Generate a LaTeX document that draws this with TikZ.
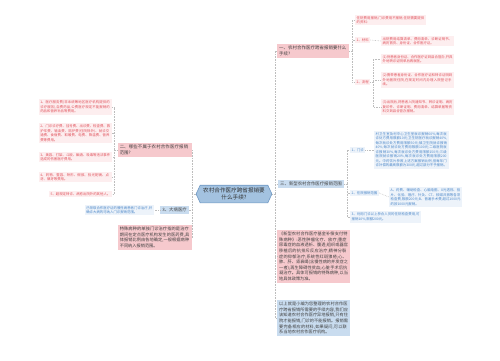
\documentclass[tikz,border=0pt]{standalone}
\usepackage{fontspec}
\newfontfamily\cjk{Noto Sans CJK SC}
\XeTeXlinebreaklocale "zh"
\XeTeXlinebreakskip=0pt plus 1pt
\usetikzlibrary{shapes.symbols}
\definecolor{rootblue}{HTML}{A3C2E0}
\definecolor{rootedge}{HTML}{6F98C3}
\definecolor{pinkbox}{HTML}{F6C9CD}
\definecolor{bluebox}{HTML}{C9DCEF}
\definecolor{pinkleaf}{HTML}{FDEEEF}
\definecolor{pinkink}{HTML}{E0505A}
\definecolor{blueleaf}{HTML}{EDF3FA}
\definecolor{blueink}{HTML}{4A86C8}
\definecolor{linkgray}{HTML}{BDBDBD}
\begin{document}
\begin{tikzpicture}[x=1pt,y=-1pt,
  link/.style={draw=linkgray,densely dotted,line width=0.6pt},
  root/.style={signal,signal to=east and west,signal pointer angle=130,
    fill=rootblue,draw=rootedge,line width=0.6pt,align=center,
    inner xsep=3pt,inner ysep=2.5pt,text=black!80,
    font=\cjk\fontsize{5.6}{7.4}\selectfont},
  branch/.style={fill=pinkbox,inner sep=2pt,align=left,text=black!75,
    font=\cjk\fontsize{4.4}{5.8}\selectfont},
  bbranch/.style={branch,fill=bluebox},
  para/.style={branch,font=\cjk\fontsize{4.2}{5.6}\selectfont},
  leaf/.style={fill=pinkleaf,text=pinkink,inner sep=1.5pt,align=left,
    font=\cjk\fontsize{3.4}{4.5}\selectfont},
  bleaf/.style={leaf,fill=blueleaf,text=blueink}]
\useasboundingbox (0,0) rectangle (500,360);

% centre
\node[root] (root) at (234,194) {农村合作医疗跨省报销要\\什么手续?};

% right side
\node[branch,anchor=west,text width=68] (proc) at (277,51) {一、农村合作医疗跨省报销要什么手续?};
\node[bbranch,anchor=west] (scope) at (278,184) {三、新型农村合作医疗报销范围};
\node[para,anchor=north west,text width=69] (special) at (277,230)
  {《新型农村合作医疗基金补偿支付特殊病种》:恶性肿瘤化疗、放疗;重症尿毒症的血液透析、腹透;组织或器官移植后的抗排斥反应治疗;精神分裂症的抑郁治疗;系统性红斑狼疮;心、肺、肝、肾衰竭(含慢性病的并发症之一者);再生障碍性贫血;心脏手术后抗凝治疗。具体可报销的特殊病种,以当地具体政策为准。};
\node[para,fill=bluebox,anchor=north west,text width=69] (summary) at (277,300)
  {以上就是小编为您整理的农村合作医疗跨省报销所需要的手续内容,我们应该知道农村合作医疗异地报销,只有住院才能报销,门诊的不能报销。报销需要完备相应的材料,如果疑问,可以联系当地农村合作医疗机构。};

% left side
\node[branch,anchor=east,text width=70] (excl) at (192,150) {二、哪些不属于农村合作医疗报销范围?};
\node[bbranch,anchor=east] (ill) at (189,210) {3、大病医疗};
\node[para,anchor=north east,text width=70] (single) at (192,225)
  {特殊病种的单独门诊治疗指的是治疗期间在定点医疗机构发生的医药费,具体报销比例由各地确定,一般根据病种不同纳入报销范围。};

\draw[link] (root.east) -- ++(3,0) |- (proc.west);
\draw[link] (root.east) -- ++(3,0) |- (scope.west);
\draw[link] (root.east) -- ++(3,0) |- (special.west);
\draw[link] (root.east) -- ++(3,0) |- (summary.west);
\draw[link] (root.west) -- ++(-3,0) |- (excl.east);
\draw[link] (root.west) -- ++(-3,0) |- (ill.east);
\draw[link] (root.west) -- ++(-3,0) |- (single.east);

% under "一"
\node[leaf,anchor=west,text width=68] (hosp) at (355,20) {住院费用报销,门诊费用不报销,住院需要提供的资料:};
\node[leaf,anchor=west] (docs) at (355,40) {1、材料};
\node[leaf,anchor=west] (flow) at (355,82) {2、流程};
\node[leaf,anchor=west,text width=70] (docsA) at (381,41) {出院费用结算清单、费用清单、诊断证明书、病历首页、身份证、合作医疗证。};
\node[leaf,anchor=west,text width=70] (flowA) at (381,59) {(1)持患者身份证、合作医疗证到县合管办,开具外地转诊证明单后再就医。};
\node[leaf,anchor=west,text width=70] (flowB) at (381,80) {(2)携带患者身份证、合作医疗证和转诊证明到外地医院住院,在规定时间内办理入院登记手续。};
\node[leaf,anchor=west,text width=70] (flowC) at (381,107) {(3)出院后,将患者入院通知书、转诊证明、病历复印件、诊断证明、费用清单、结算单据等资料交到县合管办报销。};

\draw[link] (proc.east) -- ++(3,0) |- (hosp.west);
\draw[link] (proc.east) -- ++(3,0) |- (docs.west);
\draw[link] (proc.east) -- ++(3,0) |- (flow.west);
\draw[link] (docs.east) -- (docsA.west);
\draw[link] (flow.east) -- ++(3,0) |- (flowA.west);
\draw[link] (flow.east) -- ++(3,0) |- (flowB.west);
\draw[link] (flow.east) -- ++(3,0) |- (flowC.west);

% under "三"
\node[bleaf,anchor=west] (clinic) at (350,150) {1、门诊};
\node[bleaf,anchor=west] (ward) at (350,193) {2、住院报销范围};
\node[bleaf,anchor=west,text width=68] (check) at (350,217) {3、利用门诊以上参合人员的住院检查费用,可报销10\%,限额200元。};
\node[bleaf,anchor=west,text width=72] (clinicA) at (374,150)
  {村卫生室及村中心卫生室就诊报销60\%,每次就诊处方费用限额10元;卫生院医疗就诊报销40\%,每次就诊处方费用限额50元;镇卫生院就诊报销40\%,每次就诊处方费用限额100元;二级医院就诊报销30\%,每次就诊处方费用限额150元;三级医院就诊报销20\%,每次就诊处方费用限额200元。中药饮片参照上述方案报销比例,但每年门诊补偿的最高限额为300元,超过部分不予报销。};
\node[bleaf,anchor=west,text width=70] (wardA) at (389,197) {A、药费、辅助检查、心脑电图、X光透视、拍片、化验、理疗、针灸、CT、核磁共振等各项检查费,限额200元;B、普通手术费,超过1000元的按1000元报销。};

\draw[link] (scope.east) -- ++(3,0) |- (clinic.west);
\draw[link] (scope.east) -- ++(3,0) |- (ward.west);
\draw[link] (scope.east) -- ++(3,0) |- (check.west);
\draw[link] (clinic.east) -- (clinicA.west);
\draw[link] (ward.east) -- (wardA.west);

% under "二"
\node[leaf,anchor=east,text width=70] (ex1) at (112,107) {1、医疗服务费(非本统筹地区医疗机构提供的诊疗服务),自费药品,公费医疗规定不能报销的药品和营养补品等费用。};
\node[leaf,anchor=east,text width=70] (ex2) at (112,133) {2、门诊诊疗费、挂号费、出诊费、检查费、救护车费、输血费、陪护费(住院除外)、就诊交通费、食宿费、取暖费、电费、降温费、营养费等费用。};
\node[leaf,anchor=east,text width=70] (ex3) at (112,157) {3、美容、打架、斗殴、酗酒、吸毒等违法事件造成的伤害医疗费用。};
\node[leaf,anchor=east,text width=70] (ex4) at (112,177) {4、药物、整容、矫形、假肢、验光配镜、点牙、镶牙等费用。};
\node[leaf,anchor=east] (ex5) at (112,194) {5、超规定转诊、病愈出院外的其他人。};
\node[bleaf,anchor=east,text width=66] (illA) at (154,210) {已领取合作医疗证的慢性病患者门诊治疗,并确诊大病的可纳入门诊报销范围。};

\draw[link] (excl.west) -- ++(-3,0) |- (ex1.east);
\draw[link] (excl.west) -- ++(-3,0) |- (ex2.east);
\draw[link] (excl.west) -- ++(-3,0) |- (ex3.east);
\draw[link] (excl.west) -- ++(-3,0) |- (ex4.east);
\draw[link] (excl.west) -- ++(-3,0) |- (ex5.east);
\draw[link] (ill.west) -- (illA.east);
\end{tikzpicture}
\end{document}
